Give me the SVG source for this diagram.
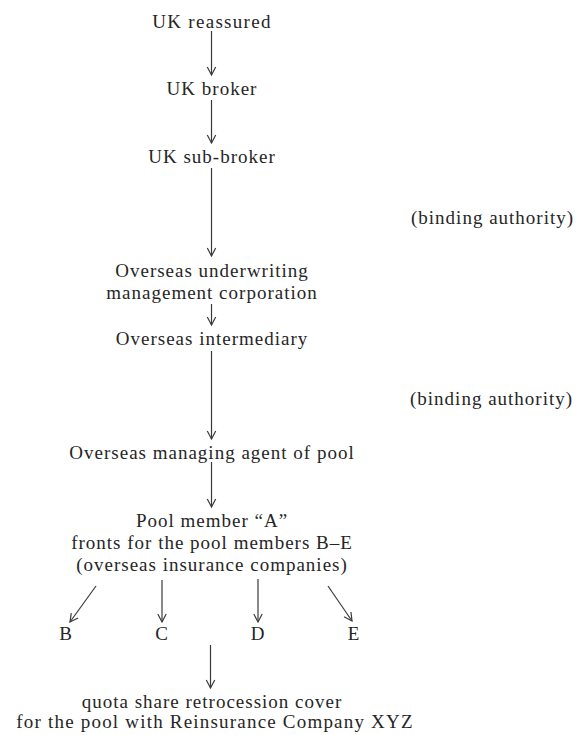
<svg xmlns="http://www.w3.org/2000/svg" width="580" height="735" viewBox="0 0 580 735">
<defs>
<style>
text{font-family:"Liberation Serif","Times New Roman",serif;font-size:19px;letter-spacing:1px;fill:#262626}
.c{text-anchor:middle}
.ln{stroke:#3a3a3a;stroke-width:1.2;fill:none;marker-end:url(#ah)}
</style>
<marker id="ah" markerUnits="userSpaceOnUse" markerWidth="12" markerHeight="12" refX="9" refY="5" orient="auto">
<path d="M1,0.8 L9,5 L1,9.2" fill="none" stroke="#3a3a3a" stroke-width="1.2"/>
</marker>
</defs>
<rect width="580" height="735" fill="#ffffff"/>
<g id="connectors">
<line class="ln" x1="211.5" y1="31" x2="211.5" y2="75"/>
<line class="ln" x1="211.5" y1="100" x2="211.5" y2="143"/>
<line class="ln" x1="211.5" y1="168" x2="211.5" y2="256"/>
<line class="ln" x1="211.5" y1="304" x2="211.5" y2="325"/>
<line class="ln" x1="211.5" y1="351" x2="211.5" y2="439"/>
<line class="ln" x1="211.5" y1="462" x2="211.5" y2="507"/>
<line class="ln" x1="96" y1="586" x2="70" y2="622"/>
<line class="ln" x1="162" y1="580" x2="162" y2="622"/>
<line class="ln" x1="258" y1="579" x2="258" y2="622"/>
<line class="ln" x1="328" y1="586" x2="352" y2="621"/>
<line class="ln" x1="210.5" y1="645" x2="210.5" y2="688"/>
</g>
<g id="uk-reassured"><text class="c" x="212" y="28" style="letter-spacing:1.3px">UK reassured</text></g>
<g id="uk-broker"><text class="c" x="212" y="95">UK broker</text></g>
<g id="uk-sub-broker"><text class="c" x="212" y="163">UK sub-broker</text></g>
<g id="binding-authority-1"><text x="411" y="224">(binding authority)</text></g>
<g id="overseas-umc"><text class="c" x="212" y="277">Overseas underwriting</text><text class="c" x="212" y="299">management corporation</text></g>
<g id="overseas-intermediary"><text class="c" x="212" y="345">Overseas intermediary</text></g>
<g id="binding-authority-2"><text x="410" y="405">(binding authority)</text></g>
<g id="managing-agent"><text class="c" x="212" y="459">Overseas managing agent of pool</text></g>
<g id="pool-member-a"><text class="c" x="212" y="527">Pool member “A”</text><text class="c" x="212" y="549">fronts for the pool members B–E</text><text class="c" x="212" y="571">(overseas insurance companies)</text></g>
<g id="member-b"><text class="c" x="66" y="640">B</text></g>
<g id="member-c"><text class="c" x="162" y="640">C</text></g>
<g id="member-d"><text class="c" x="258" y="640">D</text></g>
<g id="member-e"><text class="c" x="354" y="640">E</text></g>
<g id="retrocession"><text class="c" x="212" y="708">quota share retrocession cover</text><text class="c" x="215" y="728" style="letter-spacing:1.2px">for the pool with Reinsurance Company XYZ</text></g>
</svg>
